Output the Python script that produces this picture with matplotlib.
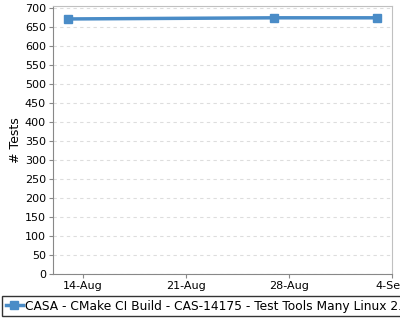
import matplotlib
matplotlib.use("Agg")
import matplotlib.pyplot as plt
import matplotlib.dates as mdates
import numpy as np
from datetime import datetime

dates = ["2023-08-13", "2023-08-27", "2023-09-03"]
tests = [670, 673, 673]
series_label = "CASA - CMake CI Build - CAS-14175 - Test Tools Many Linux 2.28"
xtick_dates = ["2023-08-14", "2023-08-21", "2023-08-28", "2023-09-04"]
xtick_labels = ["14-Aug", "21-Aug", "28-Aug", "4-Sep"]
yticks = list(range(0, 701, 50))

x = [datetime.strptime(d, "%Y-%m-%d") for d in dates]
xt = [datetime.strptime(d, "%Y-%m-%d") for d in xtick_dates]

plt.rcParams['font.family'] = ['DejaVu Sans']
fig = plt.figure(figsize=(4, 3.2), dpi=100)
ax = fig.add_axes([53/400, 1 - 274/320, (392-53)/400, (274-6)/320])

color = "#4a8cc7"
ax.plot(x, tests, color=color, lw=2.5, marker="s", ms=6, label=series_label)

ax.set_ylim(0, 704)
ax.set_yticks(yticks)
ax.set_xlim(mdates.date2num(datetime(2023, 8, 14)) - 30/103*7, mdates.date2num(datetime(2023, 9, 4)))
ax.set_xticks(xt)
ax.set_xticklabels(xtick_labels)
ax.tick_params(labelsize=8, length=3, color="#888888", pad=2)
ax.set_ylabel("# Tests", fontsize=9, labelpad=2)
ax.grid(axis="y", color="#dddddd", ls=(0, (3, 3)), lw=0.8)
ax.set_axisbelow(True)
for s in ["left", "bottom"]:
    ax.spines[s].set_color("#888888")
for s in ["top", "right"]:
    ax.spines[s].set_color("#c0c0c0")

leg = fig.legend(loc="upper left", bbox_to_anchor=(2/400, 1 - 296/320), fontsize=8.8,
                 frameon=True, fancybox=False, edgecolor="black", borderaxespad=0,
                 handlelength=1.4, handletextpad=0.2, borderpad=0.3)
leg.get_frame().set_linewidth(1.0)
fig.savefig("out.png", dpi=100)
